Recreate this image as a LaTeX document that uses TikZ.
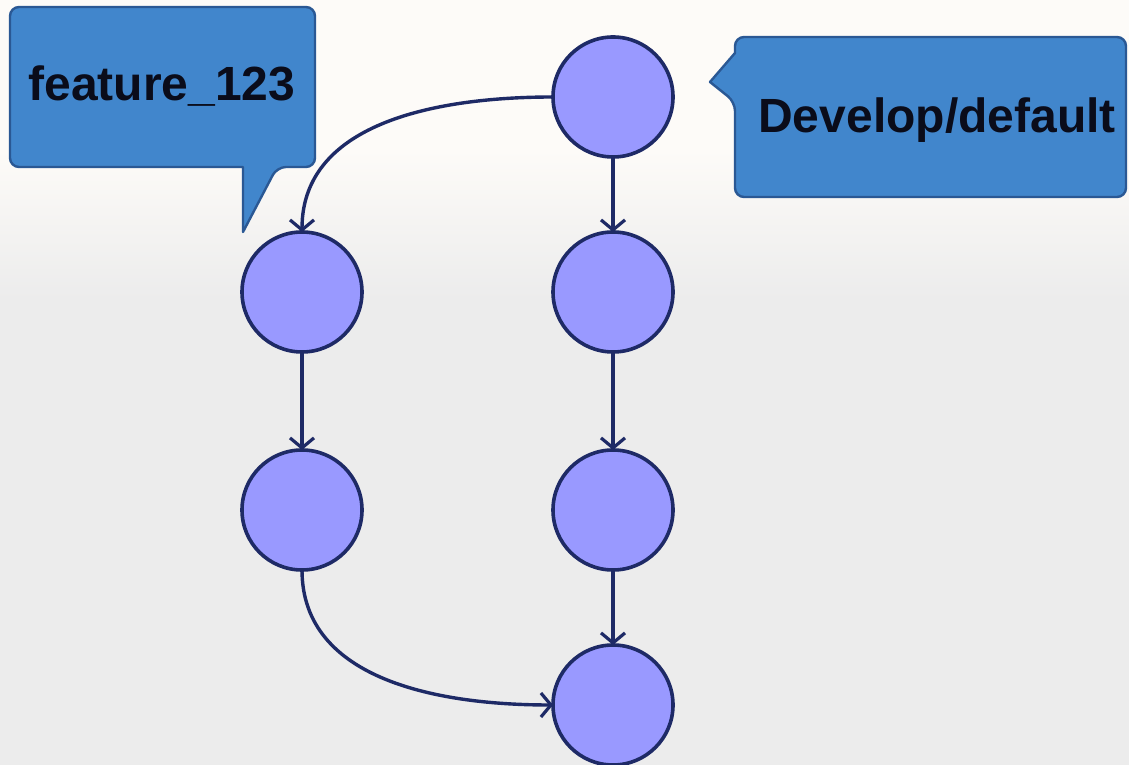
\documentclass[tikz,border=0pt]{standalone}
\usepackage{fontspec}
\setmainfont{Liberation Sans}
\usetikzlibrary{arrows.meta}
\definecolor{bgtop}{HTML}{FDFBF8}
\definecolor{bgbottom}{HTML}{ECECEC}
\definecolor{commitfill}{HTML}{9999FF}
\definecolor{navy}{HTML}{1E2A66}
\definecolor{calloutfill}{HTML}{4186CC}
\definecolor{calloutline}{HTML}{2A5894}
\definecolor{labeltext}{HTML}{0A0C1A}
\tikzset{
  commit/.style={circle, draw=navy, line width=3.6pt, fill=commitfill,
    minimum size=120pt, inner sep=0pt, outer sep=0pt},
  link/.style={draw=navy, line width=3.4pt,
    -{Straight Barb[length=10pt,width=24pt,line width=3.2pt]}},
  callout/.style={fill=calloutfill, draw=calloutline, line width=2.4pt,
    line join=round},
  label/.style={inner sep=0pt, anchor=base, text=labeltext,
    font=\fontsize{48}{56}\selectfont\bfseries}
}
\begin{document}
\begin{tikzpicture}[x=1pt,y=1pt]
  % page and background
  \useasboundingbox (0,0) rectangle (1129,765);
  \fill[bgtop] (0,615) rectangle (1129,765);
  \shade[top color=bgtop, bottom color=bgbottom] (0,465) rectangle (1129,615.5);
  \fill[bgbottom] (0,0) rectangle (1129,465.5);

  % branch labels
  \draw[callout, rounded corners=9pt] (10,598) -- (10,758) -- (315,758) -- (315,598)
    -- (277,598) [sharp corners] -- (243,533) -- (243,598) [rounded corners=9pt] -- cycle;
  \node[label] (featurelabel) at (162,664) {feature\_123};

  \draw[callout, rounded corners=9pt] (735,568) -- (735,663) [sharp corners] -- (710,683)
    -- (735,712) [rounded corners=9pt] -- (735,728) -- (1126,728) -- (1126,568) -- cycle;
  \node[label] (developlabel) at (937,632) {Develop/default};

  % develop/default commits
  \node[commit] (d1) at (613,668) {};
  \node[commit] (d2) at (613,473) {};
  \node[commit] (d3) at (613,255) {};
  \node[commit] (d4) at (613,60) {};

  % feature branch commits
  \node[commit] (f1) at (302,473) {};
  \node[commit] (f2) at (302,255) {};

  % history
  \draw[link] (d1.west) to[out=180,in=90] (f1.north);
  \draw[link] (d1.south) -- (d2.north);
  \draw[link] (d2.south) -- (d3.north);
  \draw[link] (d3.south) -- (d4.north);
  \draw[link] (f1.south) -- (f2.north);
  \draw[link] (f2.south) to[out=-90,in=180] (d4.west);
\end{tikzpicture}
\end{document}
